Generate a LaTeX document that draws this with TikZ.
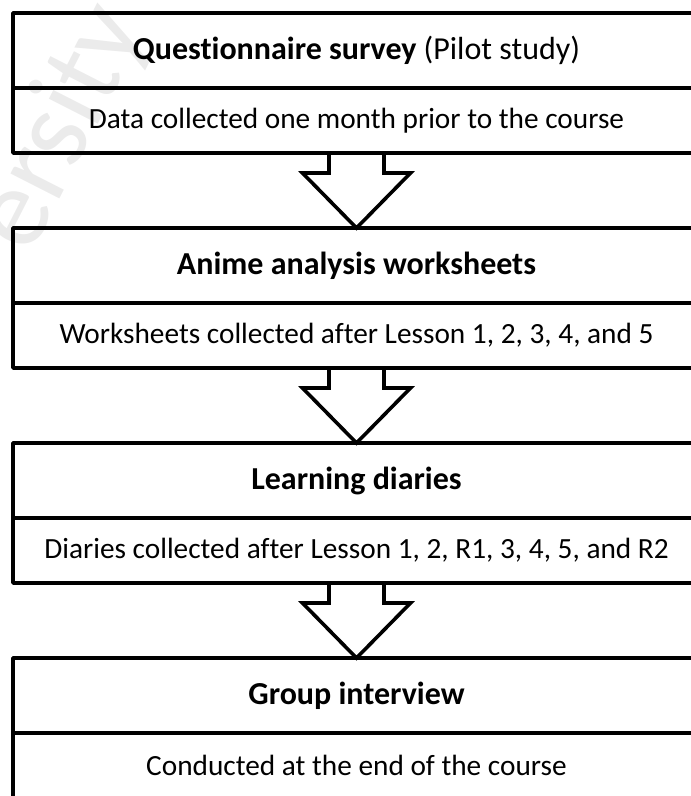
\documentclass[tikz,border=0pt]{standalone}
\usepackage{fontspec}
\setmainfont{Carlito}[Ligatures=NoCommon]
\usetikzlibrary{calc}

\begin{document}
\begin{tikzpicture}[x=1pt,y=-1pt,
  stage/.style={draw, line width=3.6pt, line join=round, minimum width=687pt,
    inner sep=0pt, outer sep=0pt, font=\fontsize{29.3}{34}\selectfont},
  titlebox/.style={stage, minimum height=75pt, font=\fontsize{32}{37}\selectfont\bfseries},
  detailbox/.style={stage, minimum height=65pt},
  blockarrow/.style={draw, line width=3.6pt, line join=miter},
  watermark/.style={text=black!8, font=\fontsize{115}{115}\selectfont}
]
\useasboundingbox (0,0) rectangle (691,796);
\clip (0,0) rectangle (691,796);

% faint background lettering
\node[watermark, rotate=63] (wm) at (62,128) {ersity};

% stage boxes: heading row above detail row
\node[titlebox]  (t1) at (356.5,50.5)  {Questionnaire survey \mdseries(Pilot study)};
\node[detailbox] (d1) at (356.5,120.5) {Data collected one month prior to the course};

\node[titlebox]  (t2) at (356.5,265.5) {Anime analysis worksheets};
\node[detailbox] (d2) at (356.5,335.5) {Worksheets collected after Lesson 1, 2, 3, 4, and 5};

\node[titlebox]  (t3) at (356.5,480.5) {Learning diaries};
\node[detailbox] (d3) at (356.5,550.5) {Diaries collected after Lesson 1, 2, R1, 3, 4, 5, and R2};

\node[titlebox]  (t4) at (356.5,695.5) {Group interview};
\node[detailbox] (d4) at (356.5,765.5) {Conducted at the end of the course};

% hollow block arrows between stages
\foreach \a/\b in {d1/t2, d2/t3, d3/t4}{
  \draw[blockarrow]
    ($(\a.south)+(-27.5,0)$) -- ($(\a.south)+(-27.5,20)$)
    -- ($(\b.north)+(-54,-55)$) -- (\b.north) -- ($(\b.north)+(54,-55)$)
    -- ($(\a.south)+(27.5,20)$) -- ($(\a.south)+(27.5,0)$);
}
\end{tikzpicture}
\end{document}
